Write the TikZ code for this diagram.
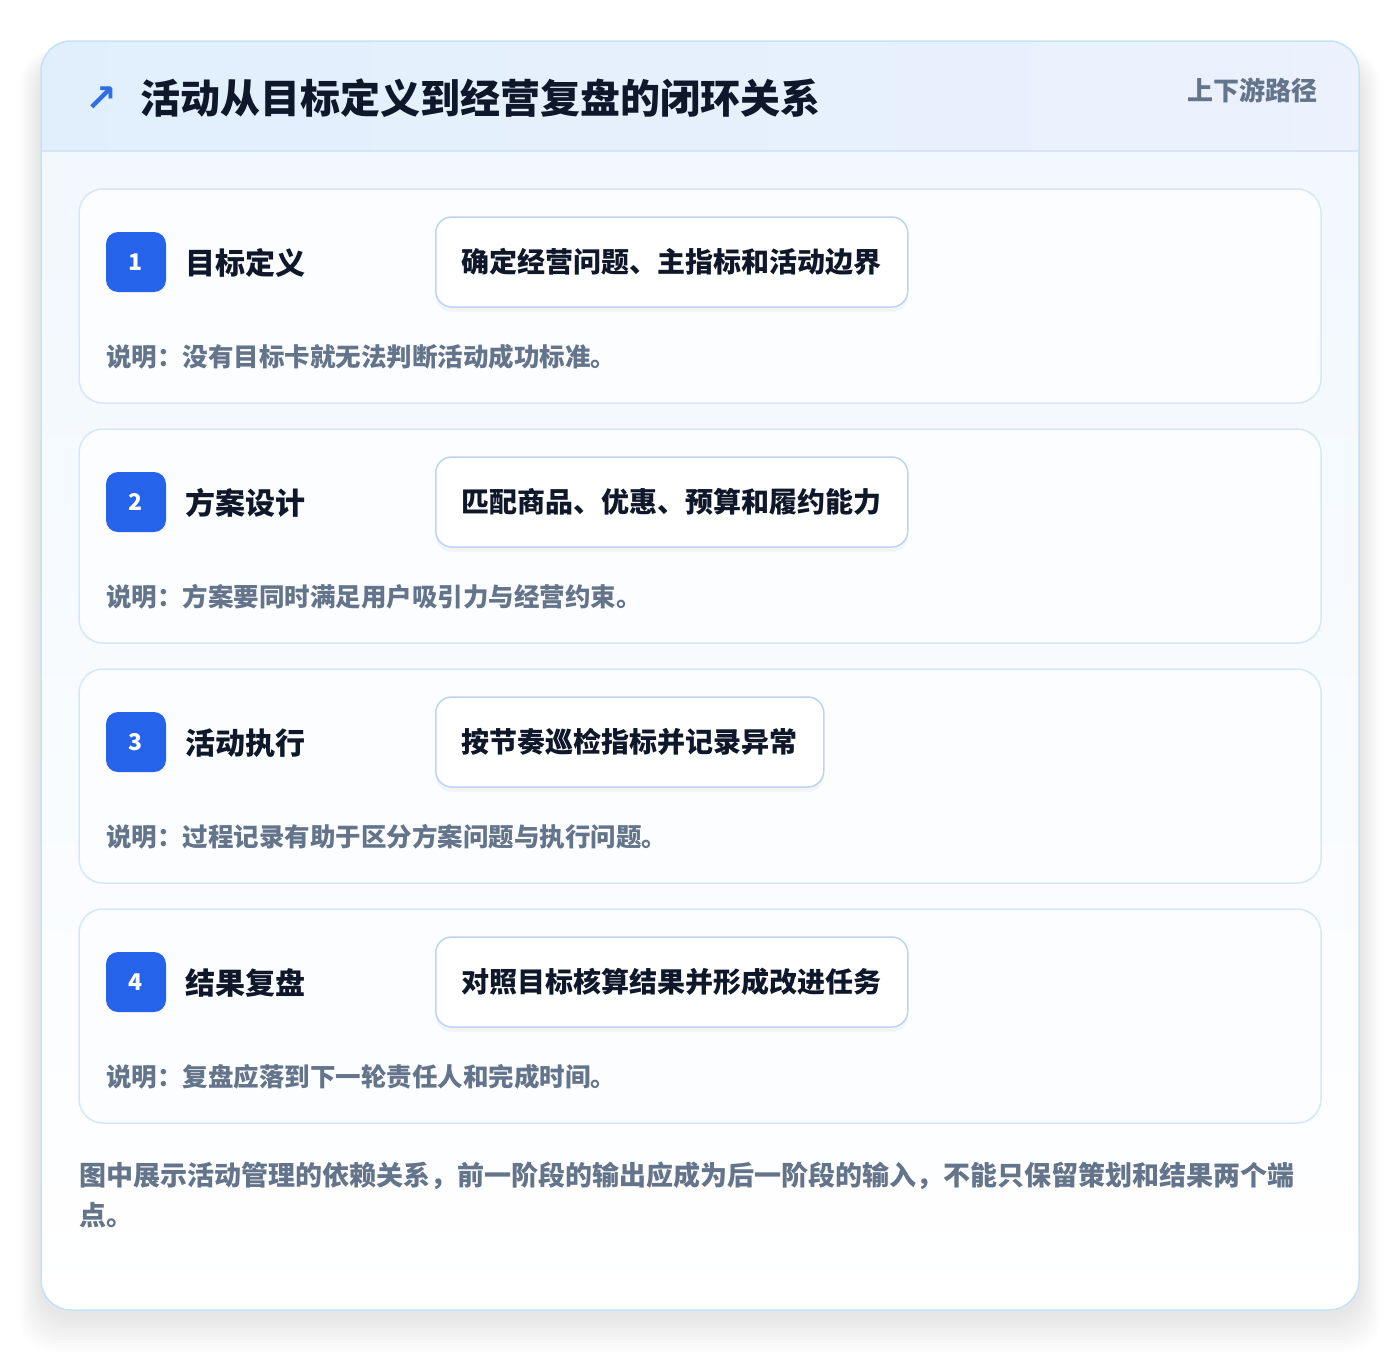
\documentclass[tikz,border=0pt]{standalone}
\usepackage{fontspec}
\setmainfont{Noto Sans CJK SC}
\newfontfamily\arrowfont{DejaVu Sans}
\usetikzlibrary{shadows}

\definecolor{FrameBorder}{HTML}{C4E2F6}
\definecolor{HeadLeft}{HTML}{E1EFFC}
\definecolor{HeadRight}{HTML}{EBF1FD}
\definecolor{HeadLine}{HTML}{D5E5F7}
\definecolor{BodyTop}{HTML}{F0F7FE}
\definecolor{CardBorder}{HTML}{D7E7F8}
\definecolor{CardFill}{HTML}{FBFDFF}
\definecolor{BadgeBlue}{HTML}{2563EB}
\definecolor{PillBorder}{HTML}{BCD4F2}
\definecolor{TitleInk}{HTML}{0F172A}
\definecolor{NoteGray}{HTML}{64748B}
\definecolor{ArrowBlue}{HTML}{2F6FE6}

\tikzstyle{step-card}=[rectangle,
                        draw=CardBorder,
                        line width=1.5pt,
                        fill=CardFill,
                        rounded corners=24pt,
                        minimum width=1242pt,
                        minimum height=214pt,
                       ]
\tikzstyle{step-badge}=[rectangle,
                         fill=BadgeBlue,
                         rounded corners=12pt,
                         minimum width=60pt,
                         minimum height=60pt,
                         text=white,
                         font=\bfseries\fontsize{23}{23}\selectfont]
\tikzstyle{step-title}=[anchor=west, inner sep=0pt, text=TitleInk,
                         font=\bfseries\fontsize{30}{30}\selectfont]
\tikzstyle{step-pill}=[rectangle,
                        draw=PillBorder,
                        line width=1.5pt,
                        fill=white,
                        rounded corners=16pt,
                        anchor=west,
                        minimum height=90pt,
                        inner xsep=26pt,
                        text=TitleInk,
                        drop shadow={opacity=0.07, shadow xshift=0pt, shadow yshift=-5pt},
                        font=\bfseries\fontsize{28}{28}\selectfont]
\tikzstyle{step-note}=[anchor=west, inner sep=0pt, text=NoteGray,
                        font=\bfseries\fontsize{25.5}{25.5}\selectfont]

\begin{document}
\begin{tikzpicture}[x=1pt, y=-1pt]
    \useasboundingbox (0,0) rectangle (1400,1352);

    % Frame
    % --------------------------------------------------------------------------
    \foreach \s in {1,...,12}
        \fill[black, opacity=0.009, rounded corners=34pt]
            ({41-1.8*\s}, {60-0.8*\s}) rectangle ({1359+1.8*\s}, {1316+3*\s});
    \fill[white, rounded corners=30pt] (41,41) rectangle (1359,1310);
    \shade[top color=BodyTop, bottom color=white, rounded corners=30pt]
        (41,41) rectangle (1359,1310);
    \begin{scope}
        \clip[rounded corners=30pt] (41,41) rectangle (1359,1310);
        \shade[left color=HeadLeft, right color=HeadRight] (41,41) rectangle (1359,151);
        \draw[HeadLine, line width=1.5pt] (41,151) -- (1359,151);
    \end{scope}
    \draw[FrameBorder, line width=1.5pt, rounded corners=30pt] (41,41) rectangle (1359,1310);

    % Header
    % --------------------------------------------------------------------------
    \node at (101, 99) (head_icon) [text=ArrowBlue, inner sep=0pt,
        font=\arrowfont\bfseries\fontsize{38}{38}\selectfont] {↗};
    \node at (140, 98) (head_title) [anchor=west, inner sep=0pt, text=TitleInk,
        font=\bfseries\fontsize{40}{40}\selectfont] {活动从目标定义到经营复盘的闭环关系};
    \node at (1318, 90) (head_tag) [anchor=east, inner sep=0pt, text=NoteGray,
        font=\bfseries\fontsize{26}{26}\selectfont] {上下游路径};

    % Steps
    % --------------------------------------------------------------------------
    \node at (700, 296) (card_1) [step-card] {};
    \node at (136, 262) (badge_1) [step-badge] {1};
    \node at (185, 263) (title_1) [step-title] {目标定义};
    \node at (435, 262) (pill_1)  [step-pill]  {确定经营问题、主指标和活动边界};
    \node at (106, 357) (note_1)  [step-note]  {说明：没有目标卡就无法判断活动成功标准。};

    \node at (700, 536) (card_2) [step-card] {};
    \node at (136, 502) (badge_2) [step-badge] {2};
    \node at (185, 503) (title_2) [step-title] {方案设计};
    \node at (435, 502) (pill_2)  [step-pill]  {匹配商品、优惠、预算和履约能力};
    \node at (106, 597) (note_2)  [step-note]  {说明：方案要同时满足用户吸引力与经营约束。};

    \node at (700, 776) (card_3) [step-card] {};
    \node at (136, 742) (badge_3) [step-badge] {3};
    \node at (185, 743) (title_3) [step-title] {活动执行};
    \node at (435, 742) (pill_3)  [step-pill]  {按节奏巡检指标并记录异常};
    \node at (106, 837) (note_3)  [step-note]  {说明：过程记录有助于区分方案问题与执行问题。};

    \node at (700, 1016) (card_4) [step-card] {};
    \node at (136, 982) (badge_4) [step-badge] {4};
    \node at (185, 983) (title_4) [step-title] {结果复盘};
    \node at (435, 982) (pill_4)  [step-pill]  {对照目标核算结果并形成改进任务};
    \node at (106, 1077) (note_4) [step-note]  {说明：复盘应落到下一轮责任人和完成时间。};

    % Footer
    % --------------------------------------------------------------------------
    \node at (79, 1195) (footer) [anchor=west, inner sep=0pt, align=left, text=NoteGray,
        font=\bfseries\fontsize{27}{40}\selectfont]
        {图中展示活动管理的依赖关系，前一阶段的输出应成为后一阶段的输入，不能只保留策划和结果两个端\\点。};
\end{tikzpicture}
\end{document}
